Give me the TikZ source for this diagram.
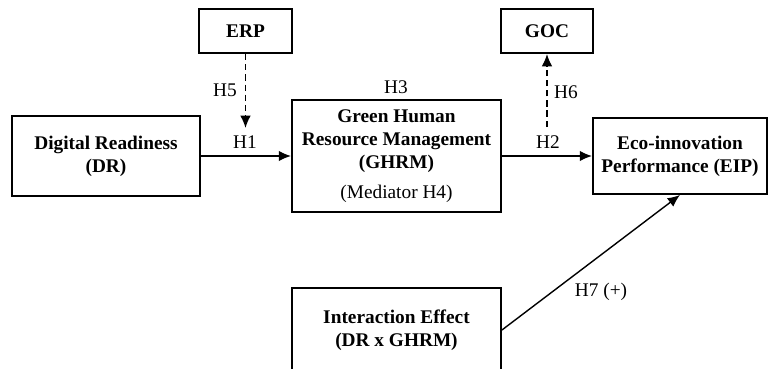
\documentclass[tikz,border=0pt]{standalone}
\usepackage{fontspec}
\setmainfont{Liberation Serif}
\usetikzlibrary{arrows.meta}

\begin{document}
\begin{tikzpicture}[x=0.02cm, y=-0.02cm, font=\fontsize{11}{13.2}\selectfont,
  box/.style={rectangle, draw, line width=1.1pt, align=center, inner sep=0pt, font=\fontsize{11}{13.2}\selectfont\bfseries},
  lowtext/.style={execute at begin node={\rule{0pt}{#1}}},
  link/.style={line width=0.8pt, -{Latex[length=7pt,width=6pt]}},
  dashlink/.style={link, dash pattern=on 3.6pt off 2.2pt},
  hyp/.style={inner sep=1pt}]
\useasboundingbox (0,0) rectangle (769,369);
\node[box, minimum width=1.86cm, minimum height=0.88cm] (erp) at (245.5,31) {ERP};
\node[box, minimum width=1.84cm, minimum height=0.88cm] (goc) at (547,31) {GOC};
\node[box, lowtext=11pt, minimum width=3.76cm, minimum height=1.6cm] (dr) at (106,156) {Digital Readiness\\(DR)};
\node[box, lowtext=14.4pt, minimum width=4.18cm, minimum height=2.24cm] (ghrm) at (396.5,156) {Green Human\\Resource Management\\(GHRM)\\[4pt]\normalfont(Mediator H4)};
\node[box, lowtext=13.2pt, minimum width=3.48cm, minimum height=1.52cm] (eip) at (680,156) {Eco-innovation\\Performance (EIP)};
\node[box, lowtext=10.5pt, minimum width=4.18cm, minimum height=1.68cm] (inter) at (396.5,330) {Interaction Effect\\(DR x GHRM)};
\coordinate (erpend) at (245.5,128);
\coordinate (gocstart) at (547,127);
\node[hyp] (h5) at (225,90) {H5};
\node[hyp] (h1) at (245,142) {H1};
\node[hyp] (h3) at (396,87) {H3};
\node[hyp] (h2) at (548,142) {H2};
\node[hyp] (h6) at (566,92) {H6};
\node[hyp] (h7) at (601,292) {H7 (+)};
\draw[link] (dr.east) -- (ghrm.west);
\draw[link] (ghrm.east) -- (eip.west);
\draw[dashlink] (erp.south) -- (erpend);
\draw[dashlink] (gocstart) -- (goc.south);
\draw[link] (inter.east) -- (eip.south);
\end{tikzpicture}
\end{document}
